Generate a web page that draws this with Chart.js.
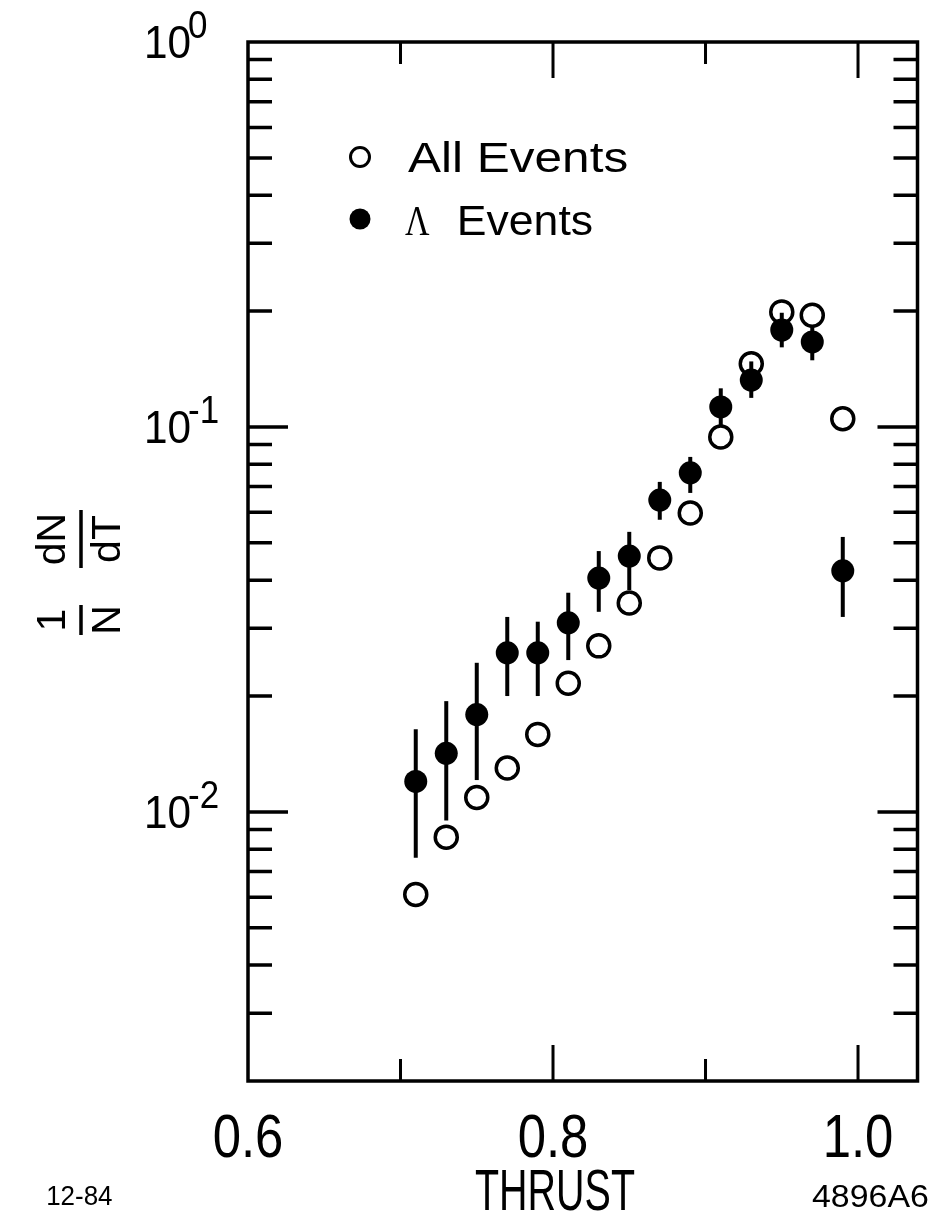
<!DOCTYPE html>
<html><head><meta charset="utf-8">
<script src="https://cdn.jsdelivr.net/npm/chart.js@4.4.1/dist/chart.umd.min.js"></script>
<style>html,body{margin:0;padding:0;background:#fff;}#wrap{width:932px;height:1221px;}</style>
</head><body><div id="wrap"><canvas id="c" width="932" height="1221"></canvas></div>
<script>
// ---- data ----
const thrust = [0.71,0.73,0.75,0.77,0.79,0.81,0.83,0.85,0.87,0.89,0.91,0.93,0.95,0.97,0.99];
const allEvents = [0.0061,0.0086,0.0109,0.0130,0.0159,0.0216,0.0270,0.0349,0.0457,0.0598,0.0942,0.146,0.199,0.195,0.105];
const lambdaEvents = [0.0120,0.0142,0.0179,0.0259,0.0259,0.0310,0.0405,0.0462,0.0646,0.0760,0.1127,0.1324,0.1786,0.1663,0.0423];
const lambdaLow  = [0.0076,0.0095,0.0121,0.0200,0.0200,0.0248,0.0331,0.0377,0.0574,0.0674,0.1005,0.119,0.161,0.149,0.0321];
const lambdaHigh = [0.0164,0.0194,0.0244,0.0321,0.0312,0.0371,0.0476,0.0534,0.0720,0.0836,0.126,0.148,0.198,0.184,0.0518];
const xMajorTicks = [0.6,0.8,1.0];
const xTickLabels = ['0.6','0.8','1.0'];
const xMinorTicks = [0.7,0.9];
const yDecades = [1,0.1,0.01];
const yTickExponents = ['0','-1','-2'];
const legendLabels = ['All Events','Events'];
const lambdaSymbol = 'Λ';
const xTitle = 'THRUST';
const noteLeft = '12-84';
const noteRight = '4896A6';

const SANS = '"Liberation Sans", Arial, sans-serif';
const SERIF = '"Liberation Serif", "Times New Roman", serif';

function fitText(ctx, s, x0, x1, base, size, family) {
  ctx.save();
  ctx.font = size + 'px ' + family;
  ctx.textAlign = 'left'; ctx.textBaseline = 'alphabetic';
  const m = ctx.measureText(s);
  const ink = m.actualBoundingBoxLeft + m.actualBoundingBoxRight;
  const sx = (x1 - x0) / ink;
  ctx.translate(x0 + m.actualBoundingBoxLeft * sx, base);
  ctx.scale(sx, 1);
  ctx.fillText(s, 0, 0);
  ctx.restore();
}
function scaledText(ctx, s, cx, base, size, sx, family, align) {
  ctx.save();
  ctx.font = size + 'px ' + family;
  ctx.textAlign = align || 'center'; ctx.textBaseline = 'alphabetic';
  ctx.translate(cx, base);
  ctx.scale(sx, 1);
  ctx.fillText(s, 0, 0);
  ctx.restore();
}

const errorBars = {
  id: 'errorBars',
  beforeDatasetsDraw(chart) {
    const {ctx, scales: {x, y}} = chart;
    ctx.save();
    ctx.strokeStyle = '#000'; ctx.lineWidth = 4; ctx.lineCap = 'butt';
    thrust.forEach((t, i) => {
      const px = x.getPixelForValue(t);
      ctx.beginPath();
      ctx.moveTo(px, y.getPixelForValue(lambdaLow[i]));
      ctx.lineTo(px, y.getPixelForValue(lambdaHigh[i]));
      ctx.stroke();
    });
    ctx.restore();
  }
};

const decor = {
  id: 'decor',
  afterDraw(chart) {
    const {ctx, chartArea: a, scales: {x, y}} = chart;
    ctx.save();
    ctx.strokeStyle = '#000'; ctx.fillStyle = '#000';
    // frame
    ctx.lineWidth = 3.5;
    ctx.strokeRect(a.left, a.top, a.right - a.left, a.bottom - a.top);
    // y ticks
    const yMin = y.min, yMax = y.max;
    const drawY = (v, len) => {
      const py = y.getPixelForValue(v);
      ctx.beginPath();
      ctx.moveTo(a.left, py); ctx.lineTo(a.left + len, py);
      ctx.moveTo(a.right, py); ctx.lineTo(a.right - len, py);
      ctx.stroke();
    };
    [0.001, 0.01, 0.1].forEach(d => {
      for (let k = 2; k <= 9; k++) {
        const v = k * d;
        if (v > yMin * 1.0001 && v < yMax) drawY(v, 24);
      }
    });
    yDecades.forEach(v => { if (v < yMax) drawY(v, 40); });
    // x ticks
    const drawX = (v, len) => {
      const px = x.getPixelForValue(v);
      ctx.beginPath();
      ctx.moveTo(px, a.bottom); ctx.lineTo(px, a.bottom - len);
      ctx.moveTo(px, a.top); ctx.lineTo(px, a.top + len);
      ctx.stroke();
    };
    ctx.lineWidth = 3;
    xMinorTicks.forEach(v => drawX(v, 22));
    xMajorTicks.forEach(v => { if (v > x.min) drawX(v, 36); });

    // x tick labels
    xMajorTicks.forEach((v, i) => {
      scaledText(ctx, xTickLabels[i], x.getPixelForValue(v), 1157, 62, 0.82, SANS, 'center');
    });
    // y tick labels 10^n
    yDecades.forEach((v, i) => {
      const py = y.getPixelForValue(v);
      scaledText(ctx, '10', 191, py + 16, 46, 0.92, SANS, 'right');
      scaledText(ctx, yTickExponents[i], 188, py - 4, 38, 0.92, SANS, 'left');
    });
    // axis title
    scaledText(ctx, xTitle, 555, 1210, 58, 0.68, SANS, 'center');
    // notes
    fitText(ctx, noteLeft, 48, 112, 1205, 28, SANS);
    fitText(ctx, noteRight, 812, 928, 1207, 32, SANS);

    // y title: (1/N)(dN/dT), rotated
    const frac = (num, den, cy, barLen) => {
      ctx.save();
      ctx.translate(81, cy);
      ctx.rotate(-Math.PI / 2);
      ctx.lineWidth = 3.5;
      ctx.beginPath(); ctx.moveTo(-barLen / 2, 0); ctx.lineTo(barLen / 2, 0); ctx.stroke();
      ctx.font = '41px ' + SANS;
      ctx.textAlign = 'center'; ctx.textBaseline = 'alphabetic';
      ctx.fillText(num, 0, -16);
      ctx.fillText(den, 0, 39);
      ctx.restore();
    };
    frac('1', 'N', 620, 30);
    frac('dN', 'dT', 539, 58);

    // legend
    const lx = 360;
    ctx.lineWidth = 3;
    ctx.beginPath(); ctx.arc(lx, 157, 9.5, 0, Math.PI * 2); ctx.stroke();
    ctx.beginPath(); ctx.arc(lx, 219, 10.5, 0, Math.PI * 2); ctx.fill();
    fitText(ctx, legendLabels[0], 408, 627, 172, 42, SANS);
    fitText(ctx, lambdaSymbol, 405, 430, 235, 42, SERIF);
    fitText(ctx, legendLabels[1], 460, 592, 235, 42, SANS);
    ctx.restore();
  }
};

new Chart(document.getElementById('c'), {
  type: 'scatter',
  data: {
    datasets: [
      {
        label: 'All Events',
        data: thrust.map((t, i) => ({x: t, y: allEvents[i]})),
        pointStyle: 'circle', pointRadius: 11, pointBorderWidth: 3.5,
        pointBorderColor: '#000', pointBackgroundColor: 'rgba(0,0,0,0)',
        showLine: false
      },
      {
        label: 'Λ Events',
        data: thrust.map((t, i) => ({x: t, y: lambdaEvents[i]})),
        pointStyle: 'circle', pointRadius: 11.5, pointBorderWidth: 0,
        pointBorderColor: '#000', pointBackgroundColor: '#000',
        showLine: false
      }
    ]
  },
  options: {
    responsive: false, animation: false, devicePixelRatio: 1,
    layout: {padding: {left: 248, right: 5, top: 42, bottom: 140}},
    plugins: {legend: {display: false}, tooltip: {enabled: false}},
    scales: {
      x: {type: 'linear', min: 0.6, max: 1.039, display: false},
      y: {type: 'logarithmic', min: 0.002, max: 1, display: false}
    }
  },
  plugins: [errorBars, decor]
});
</script></body></html>
